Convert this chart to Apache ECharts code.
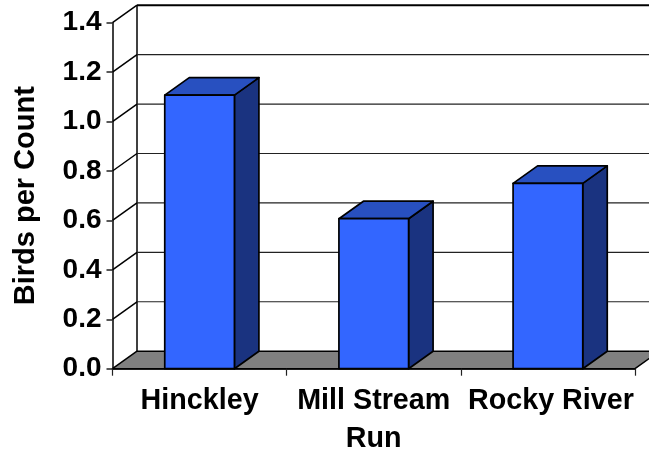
<!DOCTYPE html>
<html>
<head>
<meta charset="utf-8">
<style>html,body{margin:0;padding:0;background:#fff}#c{width:649px;height:452px}</style>
<script src="https://cdn.jsdelivr.net/npm/echarts@6/dist/echarts.min.js"></script>
</head>
<body>
<div id="c"></div>
<script>
const categories = ['Hinckley', 'Mill Stream\nRun', 'Rocky River'];
const birdsPerCount = [1.107, 0.607, 0.75];
const yTicks = [0, 0.2, 0.4, 0.6, 0.8, 1.0, 1.2, 1.4];

const DX = 24.5, DY = 17.5, INK = '#000000';
const chart = echarts.init(document.getElementById('c'), null, {renderer: 'canvas'});

function poly(points, fill, lineWidth) {
  return {type: 'polygon', shape: {points},
    style: {fill, stroke: INK, lineWidth: lineWidth === undefined ? 1.7 : lineWidth, lineJoin: 'round'}};
}
function seg(x1, y1, x2, y2, w, color) {
  return {type: 'line', shape: {x1, y1, x2, y2}, style: {stroke: color || INK, lineWidth: w}};
}

function renderWalls(params, api) {
  const v = api.value(0);
  const band = api.size([1, 0])[0];
  const left = api.coord([0, 0])[0] - band / 2;
  const right = api.coord([categories.length - 1, 0])[0] + band / 2;
  const y = api.coord([0, v])[1];
  const kids = [];
  if (v === 0) {
    const top = api.coord([0, yTicks[yTicks.length - 1]])[1];
    kids.push(poly([[left, y], [left + DX, y - DY], [right + DX, y - DY], [right, y]], '#808080', 1.5));
    kids.push(seg(left + DX, y - DY, left + DX, top - DY, 1.5));
  } else {
    const last = v === yTicks[yTicks.length - 1];
    kids.push(seg(left, y, left + DX, y - DY, 1.5));
    kids.push(seg(left + DX, y - DY, right + DX, y - DY, last ? 2 : 1.2, last ? INK : '#222222'));
  }
  return {type: 'group', children: kids};
}

function renderBar(params, api) {
  const p = api.coord([api.value(0), api.value(1)]);
  const base = api.coord([api.value(0), 0]);
  const w = api.size([1, 0])[0] * 0.4;
  const l = p[0] - w / 2, r = p[0] + w / 2, t = p[1], b = base[1];
  return {type: 'group', children: [
    poly([[r, t], [r + DX, t - DY], [r + DX, b - DY], [r, b]], '#1a3380'),
    poly([[l, t], [l + DX, t - DY], [r + DX, t - DY], [r, t]], '#2850c0'),
    poly([[l, t], [r, t], [r, b], [l, b]], '#3366ff')
  ]};
}

const catFont = {color: INK, fontWeight: 'bold', fontSize: 28.7, fontFamily: '"Liberation Sans"', lineHeight: 38};

chart.setOption({
  animation: false,
  backgroundColor: '#ffffff',
  textStyle: {fontFamily: '"Liberation Sans", Arial, sans-serif'},
  grid: {left: 112.5, right: 14, top: 22.7, bottom: 83.3, containLabel: false, outerBoundsMode: 'none'},
  xAxis: {
    type: 'category',
    data: categories,
    z: 10,
    axisLine: {show: true, lineStyle: {color: INK, width: 1.5}},
    axisTick: {show: true, alignWithLabel: false, length: 7, lineStyle: {color: '#222222', width: 1.2}},
    axisLabel: Object.assign({}, catFont, {
      margin: 13, interval: 0, hideOverlap: false,
      formatter: (v, i) => i === 2 ? '{r|' + v + '}' : v,
      rich: {r: Object.assign({}, catFont, {padding: [0, 0, 0, 6]})}
    })
  },
  yAxis: {
    type: 'value',
    min: 0, max: 1.4, interval: 0.2,
    name: 'Birds per Count',
    nameLocation: 'middle',
    nameGap: 72,
    nameRotate: 90,
    nameTextStyle: {color: INK, fontWeight: 'bold', fontSize: 29, fontFamily: '"Liberation Sans"'},
    z: 10,
    splitLine: {show: false},
    axisLine: {show: true, lineStyle: {color: INK, width: 1.5}},
    axisTick: {show: true, length: 6, lineStyle: {color: '#222222', width: 1.5}},
    axisLabel: {color: INK, fontWeight: 'bold', fontSize: 28, fontFamily: '"Liberation Sans"', margin: 11,
      formatter: v => v.toFixed(1)}
  },
  series: [
    {type: 'custom', renderItem: renderWalls, clip: false, z: 1, silent: true,
      encode: {y: 0}, data: yTicks.map(v => [v])},
    {type: 'custom', renderItem: renderBar, clip: false, z: 2, silent: true,
      encode: {x: 0, y: 1}, data: birdsPerCount.map((v, i) => [i, v])}
  ]
});
</script>
</body>
</html>
